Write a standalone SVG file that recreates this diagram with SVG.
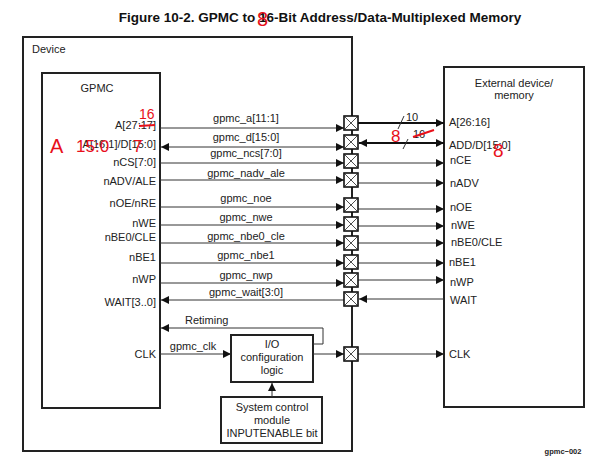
<svg xmlns="http://www.w3.org/2000/svg" width="597" height="463" viewBox="0 0 597 463">
<defs>
<style>
text{font-family:"Liberation Sans",Arial,sans-serif;fill:#222;font-size:11px}
.title{font-weight:bold;font-size:13.5px;text-anchor:middle;fill:#111}
.r{text-anchor:end}
.m{text-anchor:middle}
.box{fill:#fff;stroke:#222;stroke-width:2}
.ln{stroke:#333;stroke-width:1;fill:none}
.thick{stroke:#111;stroke-width:2;fill:none}
.red{fill:#e8101a;font-size:17px}
.redl{stroke:#e8101a;stroke-width:2;fill:none}
</style>
<marker id="ah" viewBox="0 0 10 10" refX="10" refY="5" markerWidth="9" markerHeight="8" markerUnits="userSpaceOnUse" orient="auto-start-reverse">
<path d="M0,0 L10,5 L0,10 Z" fill="#111"/>
</marker>
<g id="bx"><rect x="-7" y="0" width="14" height="14" fill="#fff" stroke="#111" stroke-width="1.6"/><path d="M-7,0 L7,14 M7,0 L-7,14" stroke="#222" stroke-width="0.8" fill="none"/></g>
</defs>
<rect width="597" height="463" fill="#fff"/>
<text class="title" x="320" y="22">Figure 10-2. GPMC to 16-Bit Address/Data-Multiplexed Memory</text>

<g id="device"><rect class="box" x="23" y="37" width="329" height="414"/><text x="32" y="53">Device</text></g>

<g id="gpmc">
<rect class="box" x="42" y="73" width="118" height="335"/>
<text class="m" x="97" y="92">GPMC</text>
<text class="r" x="156" y="129">A[27:17]</text>
<text class="r" x="156" y="148">A[16:1]/D[15:0]</text>
<text class="r" x="156" y="166">nCS[7:0]</text>
<text class="r" x="156" y="185">nADV/ALE</text>
<text class="r" x="156" y="207">nOE/nRE</text>
<text class="r" x="156" y="227">nWE</text>
<text class="r" x="156" y="241">nBE0/CLE</text>
<text class="r" x="156" y="261">nBE1</text>
<text class="r" x="156" y="283">nWP</text>
<text class="r" x="156" y="306">WAIT[3..0]</text>
<text class="r" x="156" y="358">CLK</text>
</g>

<g id="external">
<rect class="box" x="444" y="67" width="140" height="340"/>
<text class="m" x="514" y="87">External device/</text>
<text class="m" x="514" y="99">memory</text>
<text x="449" y="126">A[26:16]</text>
<text x="449" y="149">ADD/D[15:0]</text>
<text x="450" y="164">nCE</text>
<text x="450" y="187">nADV</text>
<text x="450" y="211">nOE</text>
<text x="451" y="229">nWE</text>
<text x="451" y="246">nBE0/CLE</text>
<text x="449" y="266">nBE1</text>
<text x="450" y="286">nWP</text>
<text x="450" y="304">WAIT</text>
<text x="449" y="358">CLK</text>
</g>

<g id="io_config">
<rect class="box" x="231" y="335" width="82" height="47"/>
<text class="m" x="272" y="348">I/O</text>
<text class="m" x="272" y="361">configuration</text>
<text class="m" x="272" y="374">logic</text>
</g>

<g id="sys_control">
<rect class="box" x="221" y="397" width="101" height="46"/>
<text class="m" x="272" y="411">System control</text>
<text class="m" x="272" y="424">module</text>
<text class="m" x="272" y="437">INPUTENABLE bit</text>
</g>

<g id="connectors">
<line class="ln" x1="160" y1="128" x2="344" y2="128" marker-end="url(#ah)"/>
<line class="ln" x1="161" y1="147" x2="344" y2="147" marker-start="url(#ah)" marker-end="url(#ah)"/>
<line class="ln" x1="160" y1="163" x2="344" y2="163" marker-end="url(#ah)"/>
<line class="ln" x1="160" y1="180" x2="344" y2="180" marker-end="url(#ah)"/>
<line class="ln" x1="160" y1="207" x2="344" y2="207" marker-end="url(#ah)"/>
<line class="ln" x1="160" y1="225" x2="344" y2="225" marker-end="url(#ah)"/>
<line class="ln" x1="160" y1="243" x2="344" y2="243" marker-end="url(#ah)"/>
<line class="ln" x1="160" y1="263" x2="344" y2="263" marker-end="url(#ah)"/>
<line class="ln" x1="160" y1="283" x2="344" y2="283" marker-end="url(#ah)"/>
<line class="ln" x1="344" y1="300" x2="161" y2="300" marker-end="url(#ah)"/>
<polyline class="ln" points="313,344 323,344 323,328 161,328" marker-end="url(#ah)"/>
<line class="ln" x1="160" y1="354" x2="231" y2="354" marker-end="url(#ah)"/>
<line class="ln" x1="313" y1="354" x2="344" y2="354" marker-end="url(#ah)"/>
<line class="ln" x1="272" y1="397" x2="272" y2="383" marker-end="url(#ah)"/>
<line class="thick" x1="358" y1="123" x2="444" y2="123" marker-end="url(#ah)"/>
<line class="thick" x1="359" y1="143" x2="444" y2="143" marker-start="url(#ah)" marker-end="url(#ah)"/>
<line class="ln" x1="358" y1="163" x2="444" y2="163" marker-end="url(#ah)"/>
<line class="ln" x1="358" y1="183" x2="444" y2="183" marker-end="url(#ah)"/>
<line class="ln" x1="358" y1="209" x2="444" y2="209" marker-end="url(#ah)"/>
<line class="ln" x1="358" y1="226" x2="444" y2="226" marker-end="url(#ah)"/>
<line class="ln" x1="358" y1="243" x2="444" y2="243" marker-end="url(#ah)"/>
<line class="ln" x1="358" y1="263" x2="444" y2="263" marker-end="url(#ah)"/>
<line class="ln" x1="358" y1="280" x2="444" y2="280" marker-end="url(#ah)"/>
<line class="ln" x1="444" y1="299" x2="359" y2="299" marker-end="url(#ah)"/>
<line class="ln" x1="358" y1="354" x2="444" y2="354" marker-end="url(#ah)"/>
<line class="ln" x1="398" y1="129" x2="404" y2="116"/>
<line class="ln" x1="403" y1="149" x2="408" y2="139"/>
<text x="406" y="121">10</text>
<text x="413" y="138">16</text>
<text class="m" x="246" y="122">gpmc_a[11:1]</text>
<text class="m" x="246" y="141">gpmc_d[15:0]</text>
<text class="m" x="246" y="157">gpmc_ncs[7:0]</text>
<text class="m" x="246" y="177">gpmc_nadv_ale</text>
<text class="m" x="246" y="202">gpmc_noe</text>
<text class="m" x="246" y="221">gpmc_nwe</text>
<text class="m" x="246" y="240">gpmc_nbe0_cle</text>
<text class="m" x="246" y="259">gpmc_nbe1</text>
<text class="m" x="246" y="279">gpmc_nwp</text>
<text class="m" x="246" y="296">gpmc_wait[3:0]</text>
<text x="185" y="324">Retiming</text>
<text class="m" x="193" y="350">gpmc_clk</text>
</g>

<g id="buffers">
<use href="#bx" x="351" y="116"/>
<use href="#bx" x="351" y="135"/>
<use href="#bx" x="351" y="154"/>
<use href="#bx" x="351" y="173"/>
<use href="#bx" x="351" y="198"/>
<use href="#bx" x="351" y="217"/>
<use href="#bx" x="351" y="236"/>
<use href="#bx" x="351" y="255"/>
<use href="#bx" x="351" y="273"/>
<use href="#bx" x="351" y="292"/>
<use href="#bx" x="351" y="347"/>
</g>

<text x="563" y="454" style="font-size:7.5px;font-weight:bold" class="m">gpmc−002</text>

<g id="annotations">
<text class="red" x="257" y="26" style="font-size:20px">8</text>
<text class="red" x="139" y="119" style="font-size:14px">16</text>
<line class="redl" x1="139" y1="126" x2="155" y2="125"/>
<text class="red" x="50" y="153" style="font-size:20px">A</text>
<text class="red" x="76" y="152">15:0</text>
<text class="red" x="133" y="152">7</text>
<text class="red" x="391" y="142">8</text>
<line class="redl" x1="413" y1="137" x2="434" y2="130"/>
<text class="red" x="493" y="157" style="font-size:19px">8</text>
</g>
</svg>
